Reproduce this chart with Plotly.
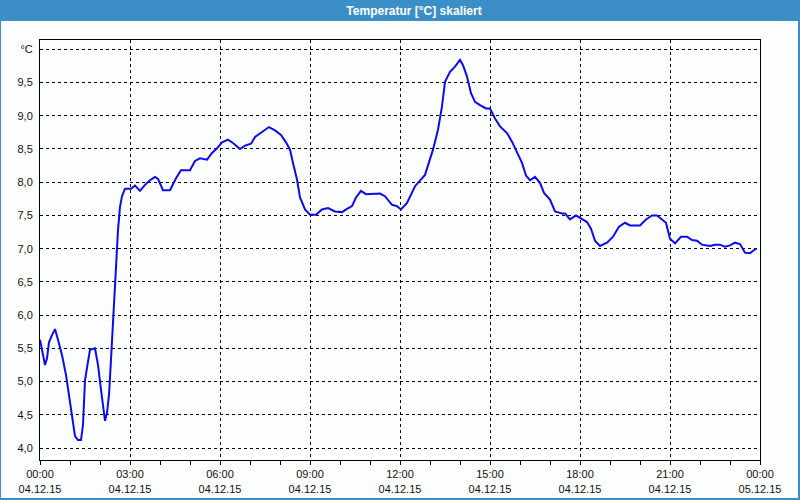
import plotly.graph_objects as go

day = "2015-12-04"
times = [
    "00:00", "00:04", "00:10", "00:14", "00:18", "00:24", "00:30", "00:36", "00:44", "00:52",
    "01:00", "01:06", "01:10", "01:16", "01:22", "01:26", "01:30", "01:36", "01:40", "01:50",
    "01:56", "02:02", "02:08", "02:10", "02:14", "02:18", "02:22", "02:26", "02:29", "02:32",
    "02:36", "02:40", "02:44", "02:50", "03:02", "03:10", "03:20", "03:30", "03:40", "03:50",
    "03:56", "04:06", "04:20", "04:32", "04:42", "05:00", "05:10", "05:20", "05:34", "05:44",
    "05:54", "06:04", "06:16", "06:26", "06:40", "06:50", "07:02", "07:10", "07:24", "07:38",
    "07:50", "08:02", "08:12", "08:20", "08:26", "08:34", "08:40", "08:50", "09:00", "09:12",
    "09:24", "09:36", "09:50", "10:04", "10:14", "10:24", "10:32", "10:42", "10:52", "11:10",
    "11:20", "11:30", "11:44", "11:54", "12:02", "12:14", "12:30", "12:50", "13:06", "13:16",
    "13:24", "13:30", "13:40", "13:50", "14:00", "14:06", "14:14", "14:22", "14:30", "14:40",
    "14:52", "15:00", "15:10", "15:20", "15:34", "15:44", "15:54", "16:04", "16:12", "16:20",
    "16:30", "16:40", "16:48", "17:00", "17:10", "17:24", "17:30", "17:40", "17:52", "18:04",
    "18:14", "18:22", "18:30", "18:40", "18:54", "19:06", "19:18", "19:30", "19:40", "20:00",
    "20:12", "20:24", "20:34", "20:44", "20:52", "21:00", "21:10", "21:22", "21:34", "21:44",
    "21:54", "22:04", "22:20", "22:30", "22:40", "22:50", "23:00", "23:10", "23:20", "23:30",
    "23:40", "23:50", "23:54",
]
temps = [
    5.63, 5.48, 5.25, 5.35, 5.59, 5.70, 5.79, 5.63, 5.40, 5.10,
    4.72, 4.42, 4.18, 4.12, 4.12, 4.35, 5.02, 5.30, 5.48, 5.50,
    5.25, 4.88, 4.55, 4.41, 4.53, 4.80, 5.33, 5.93, 6.38, 6.83,
    7.28, 7.63, 7.79, 7.90, 7.90, 7.95, 7.87, 7.96, 8.03, 8.08,
    8.05, 7.88, 7.88, 8.06, 8.18, 8.18, 8.32, 8.36, 8.34, 8.44,
    8.51, 8.60, 8.64, 8.59, 8.50, 8.55, 8.58, 8.68, 8.75, 8.83,
    8.78, 8.71, 8.60, 8.49, 8.29, 8.04, 7.77, 7.59, 7.51, 7.51,
    7.59, 7.61, 7.56, 7.55, 7.60, 7.64, 7.77, 7.87, 7.82, 7.82,
    7.83, 7.79, 7.66, 7.64, 7.59, 7.69, 7.94, 8.11, 8.49, 8.79,
    9.14, 9.51, 9.66, 9.74, 9.84, 9.76, 9.59, 9.34, 9.21, 9.16,
    9.11, 9.11, 8.96, 8.84, 8.74, 8.61, 8.46, 8.29, 8.10, 8.03,
    8.08, 7.99, 7.84, 7.74, 7.56, 7.53, 7.53, 7.44, 7.50, 7.44,
    7.40, 7.30, 7.12, 7.04, 7.09, 7.18, 7.33, 7.39, 7.35, 7.35,
    7.44, 7.50, 7.50, 7.44, 7.39, 7.15, 7.08, 7.18, 7.18, 7.13,
    7.12, 7.06, 7.04, 7.06, 7.06, 7.03, 7.05, 7.09, 7.07, 6.94,
    6.93, 6.99, 7.00,
]

x_tick_vals = ["2015-12-04 00:00", "2015-12-04 03:00", "2015-12-04 06:00", "2015-12-04 09:00",
               "2015-12-04 12:00", "2015-12-04 15:00", "2015-12-04 18:00", "2015-12-04 21:00",
               "2015-12-05 00:00"]
x_tick_text = ["00:00<br>04.12.15", "03:00<br>04.12.15", "06:00<br>04.12.15", "09:00<br>04.12.15",
               "12:00<br>04.12.15", "15:00<br>04.12.15", "18:00<br>04.12.15", "21:00<br>04.12.15",
               "00:00<br>05.12.15"]
y_tick_vals = [4.0, 4.5, 5.0, 5.5, 6.0, 6.5, 7.0, 7.5, 8.0, 8.5, 9.0, 9.5, 10.0]
y_tick_text = ["4,0", "4,5", "5,0", "5,5", "6,0", "6,5", "7,0", "7,5", "8,0", "8,5", "9,0", "9,5", "°C"]
title_text = "Temperatur [°C] skaliert"

xs = [f"{day} {t}" for t in times]

fig = go.Figure()
fig.add_trace(go.Scatter(x=xs, y=temps, mode="lines",
                         line=dict(color="#0c0ce8", width=2), hoverinfo="skip"))

FONT = "Liberation Sans"
fig.update_layout(
    width=800, height=500,
    margin=dict(l=40, r=40, t=40, b=40, autoexpand=False),
    paper_bgcolor="#3c8fc6",
    plot_bgcolor="#fcfefd",
    showlegend=False,
    font=dict(family=FONT, size=11, color="#111111"),
    title=dict(text="<b>" + title_text + "</b>", x=414 / 800, xanchor="center",
               y=1 - 10.5 / 500, yanchor="middle", yref="container",
               font=dict(family=FONT, size=12, color="white")),
    shapes=[dict(type="rect", xref="paper", yref="paper",
                 x0=(1 - 40) / 720, x1=(798 - 40) / 720,
                 y0=(460 - 498) / 420, y1=(460 - 21) / 420,
                 fillcolor="#fcfefd", line=dict(width=0), layer="below")],
)
fig.update_xaxes(
    type="date", automargin=False,
    range=["2015-12-04 00:00", "2015-12-05 00:00"],
    tickvals=x_tick_vals, ticktext=x_tick_text,
    ticks="outside", ticklen=4, tickcolor="black", tickwidth=1,
    minor=dict(ticks="outside", ticklen=4, tickcolor="black", dtick=3600000,
               tick0="2015-12-04 00:00", showgrid=False),
    showgrid=True, gridcolor="black", gridwidth=1, griddash="3px,3px",
    showline=True, linecolor="black", linewidth=1, mirror=True,
    zeroline=False,
)
fig.update_yaxes(
    automargin=False,
    range=[3.82, 10.14],
    tickvals=y_tick_vals, ticktext=y_tick_text,
    ticks="", ticklabelstandoff=4,
    showgrid=True, gridcolor="black", gridwidth=1, griddash="3px,3px",
    showline=True, linecolor="black", linewidth=1, mirror=True,
    zeroline=False,
)

fig.write_html("out.html")
